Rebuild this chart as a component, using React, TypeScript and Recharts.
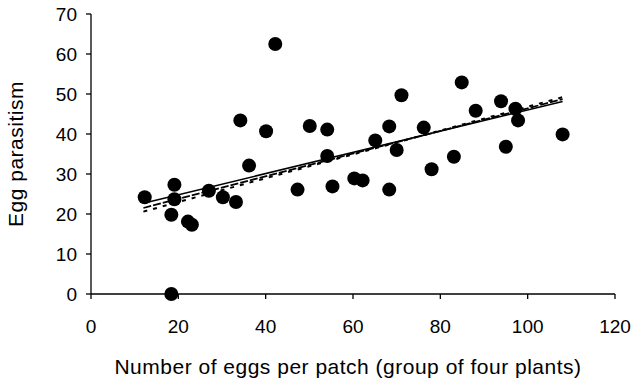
import {
  ComposedChart,
  Scatter,
  Line,
  XAxis,
  YAxis,
  Label,
} from "recharts";

// eggs per patch (x) and egg parasitism (y) for each patch
const eggsPerPatch = [
  12.3, 19.1, 19.1, 18.4, 22.2, 23.1, 18.4, 27.0, 30.2, 33.2, 34.2, 36.2,
  40.1, 42.2, 47.3, 50.1, 54.1, 54.1, 55.3, 60.3, 62.2, 65.1, 68.3, 70.0,
  71.1, 68.3, 76.2, 78.0, 83.1, 84.9, 88.1, 93.9, 97.2, 97.8, 95.0, 108.0,
];
const eggParasitism = [
  24.2, 27.3, 23.7, 19.8, 18.1, 17.3, 0, 25.8, 24.2, 23.0, 43.4, 32.1,
  40.7, 62.5, 26.1, 42.0, 41.1, 34.5, 26.9, 28.9, 28.4, 38.4, 41.9, 36.0,
  49.7, 26.1, 41.6, 31.2, 34.3, 52.9, 45.8, 48.2, 46.3, 43.4, 36.8, 39.9,
];

// fitted lines, two ends each
const fitX = [12, 108];
const solidFitY = [22.7, 48.1];
const dashedFitY = [21.5, 48.7];
const dottedFitY = [20.6, 49.2];

const xTicks = [0, 20, 40, 60, 80, 100, 120];
const yTicks = [0, 10, 20, 30, 40, 50, 60, 70];

const points = eggsPerPatch.map((x, i) => ({ x, y: eggParasitism[i] }));
const toLine = (ys: number[]) => fitX.map((x, i) => ({ x, y: ys[i] }));

const FONT = "'Liberation Sans', Arial, sans-serif";

export default function App() {
  return (
    <div style={{ position: "absolute", left: 0, top: 0, background: "#fff" }}>
      <ComposedChart
        width={633}
        height={384}
        margin={{ top: 14, right: 18, bottom: 0, left: 0 }}
      >
        <XAxis
          type="number"
          dataKey="x"
          domain={[0, 120]}
          ticks={xTicks}
          height={90}
          stroke="#000"
          strokeWidth={1.3}
          tickSize={5}
          tickMargin={21}
          tick={{ fill: "#000", fontSize: 19, fontFamily: FONT }}
          label={
            <Label
              content={() => (
                <text
                  x={348}
                  y={374}
                  textAnchor="middle"
                  fontSize={21}
                  letterSpacing={0.5}
                  fontFamily={FONT}
                  fill="#000"
                >
                  Number of eggs per patch (group of four plants)
                </text>
              )}
            />
          }
        />
        <YAxis
          type="number"
          dataKey="y"
          domain={[0, 70]}
          ticks={yTicks}
          width={91}
          stroke="#000"
          strokeWidth={1.3}
          tickSize={5}
          tickMargin={9}
          tick={{ fill: "#000", fontSize: 19, fontFamily: FONT }}
          label={
            <Label
              content={() => (
                <text
                  x={23}
                  y={154}
                  transform="rotate(-90, 23, 154)"
                  textAnchor="middle"
                  fontSize={21}
                  letterSpacing={0.5}
                  fontFamily={FONT}
                  fill="#000"
                >
                  Egg parasitism
                </text>
              )}
            />
          }
        />

        <Scatter
          data={points}
          dataKey="y"
          fill="#000"
          shape={(p: any) => <circle cx={p.cx} cy={p.cy} r={7} fill="#000" />}
          isAnimationActive={false}
        />

        {/* regression lines */}
        <Line
          data={toLine(solidFitY)}
          dataKey="y"
          stroke="#000"
          strokeWidth={1.5}
          dot={false}
          activeDot={false}
          isAnimationActive={false}
        />
        <Line
          data={toLine(dashedFitY)}
          dataKey="y"
          stroke="#000"
          strokeWidth={1.8}
          strokeDasharray="8 2"
          dot={false}
          activeDot={false}
          isAnimationActive={false}
        />
        <Line
          data={toLine(dottedFitY)}
          dataKey="y"
          stroke="#000"
          strokeWidth={2}
          strokeDasharray="4 6"
          dot={false}
          activeDot={false}
          isAnimationActive={false}
        />
      </ComposedChart>
    </div>
  );
}
